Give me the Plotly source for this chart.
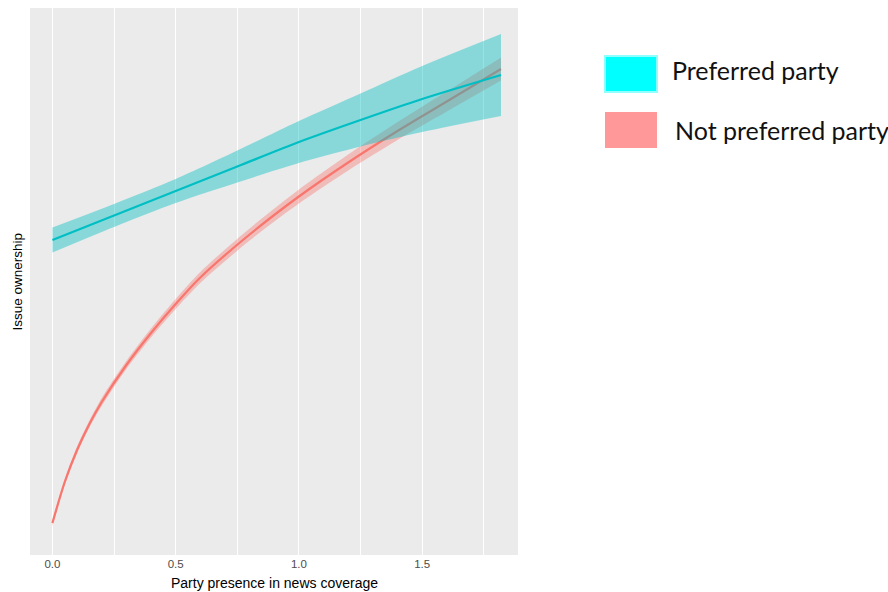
import plotly.graph_objects as go

# ---- data (arbitrary issue-ownership units; y axis carries no labels) ----
red_x = [0, 0.05, 0.1, 0.15, 0.2, 0.3, 0.4, 0.5, 0.6, 0.8, 1.0, 1.2, 1.4, 1.6, 1.82]
red_y = [0.32, 0.73, 1.05, 1.31, 1.53, 1.90, 2.22, 2.51, 2.775, 3.205, 3.585, 3.925, 4.24, 4.535, 4.86]
red_upper = [0.35, 0.76, 1.085, 1.345, 1.57, 1.94, 2.265, 2.56, 2.83, 3.265, 3.655, 4.005, 4.33, 4.635, 4.975]
red_lower = [0.29, 0.70, 1.015, 1.275, 1.49, 1.86, 2.175, 2.46, 2.72, 3.145, 3.515, 3.845, 4.15, 4.435, 4.745]

blue_x = [0, 0.25, 0.5, 0.75, 1.0, 1.25, 1.5, 1.82]
blue_y = [3.15, 3.395, 3.64, 3.885, 4.13, 4.35, 4.56, 4.80]
blue_upper = [3.275, 3.51, 3.76, 4.045, 4.34, 4.615, 4.89, 5.21]
blue_lower = [3.025, 3.28, 3.52, 3.725, 3.92, 4.085, 4.23, 4.39]

x_ticks = [0, 0.5, 1.0, 1.5]
x_tick_labels = ["0.0", "0.5", "1.0", "1.5"]
legend_labels = ["Preferred party", "Not preferred party"]
x_title = "Party presence in news coverage"
y_title = "Issue ownership"

RED = "#F8766D"
TEAL = "#00BFC4"

fig = go.Figure()

def band(xs, lo, hi, fill):
    fig.add_trace(go.Scatter(x=xs, y=lo, mode="lines",
                             line=dict(width=0, shape="spline", smoothing=0.8),
                             hoverinfo="skip", showlegend=False))
    fig.add_trace(go.Scatter(x=xs, y=hi, mode="lines",
                             line=dict(width=0, shape="spline", smoothing=0.8),
                             fill="tonexty", fillcolor=fill,
                             hoverinfo="skip", showlegend=False))

# red ribbon + line
band(red_x, red_lower, red_upper, "rgba(248,118,109,0.4)")
fig.add_trace(go.Scatter(x=red_x, y=red_y, mode="lines",
                         line=dict(color=RED, width=2.2, shape="spline", smoothing=0.8),
                         showlegend=False))

# teal ribbon + line
band(blue_x, blue_lower, blue_upper, "rgba(0,191,196,0.42)")
fig.add_trace(go.Scatter(x=blue_x, y=blue_y, mode="lines",
                         line=dict(color=TEAL, width=2.2, shape="spline", smoothing=0.8),
                         showlegend=False))

fig.update_layout(
    width=888, height=592,
    margin=dict(l=30, r=370, t=8, b=37, autoexpand=False),
    paper_bgcolor="white",
    plot_bgcolor="#EBEBEB",
    font=dict(family="Liberation Sans, Arial, sans-serif", color="#000000"),
    xaxis=dict(
        range=[-0.091, 1.889],
        tickvals=x_ticks, ticktext=x_tick_labels,
        tickfont=dict(size=11.5, color="#4D4D4D"),
        showgrid=True, gridcolor="white", gridwidth=1.2,
        minor=dict(dtick=0.25, tick0=0.25, showgrid=True, gridcolor="white", gridwidth=0.8),
        zeroline=False, showline=False, ticks="", automargin=False,
    ),
    yaxis=dict(
        range=[0, 5.47],
        showticklabels=False, showgrid=False, zeroline=False, showline=False, ticks="",
        automargin=False,
    ),
)

# axis titles
fig.add_annotation(xref="paper", yref="paper", x=0.5, y=-(583 - 555) / 547.0,
                   text=x_title, showarrow=False, xanchor="center", yanchor="middle",
                   font=dict(size=14, color="#000000"))
fig.add_annotation(xref="paper", yref="paper", x=-(30 - 17) / 488.0, y=0.5,
                   text=y_title, showarrow=False, xanchor="center", yanchor="middle", textangle=-90,
                   font=dict(size=13.5, color="#000000"))

# legend drawn as boxes + text (outside the panel, on the right)
def px_x(p):
    return (p - 30) / 488.0

def px_y(p):
    return (555 - p) / 547.0

fig.add_shape(type="rect", xref="paper", yref="paper",
              x0=px_x(605), x1=px_x(657), y0=px_y(92), y1=px_y(56),
              fillcolor="#00FFFF", line=dict(color="#8FFFFF", width=2))
fig.add_shape(type="rect", xref="paper", yref="paper",
              x0=px_x(605), x1=px_x(657), y0=px_y(148), y1=px_y(112),
              fillcolor="#FF9999", line=dict(width=0))

fig.add_annotation(xref="paper", yref="paper", x=px_x(670), y=px_y(70),
                   text=legend_labels[0], showarrow=False, xanchor="left", yanchor="middle",
                   font=dict(family="Lato, Open Sans, sans-serif", size=25, color="#111111"))
fig.add_annotation(xref="paper", yref="paper", x=px_x(673), y=px_y(130),
                   text=legend_labels[1], showarrow=False, xanchor="left", yanchor="middle",
                   font=dict(family="Lato, Open Sans, sans-serif", size=25, color="#111111"))

fig.write_html("out.html", config={"displayModeBar": False},
               post_script="document.body.style.margin='0';")
